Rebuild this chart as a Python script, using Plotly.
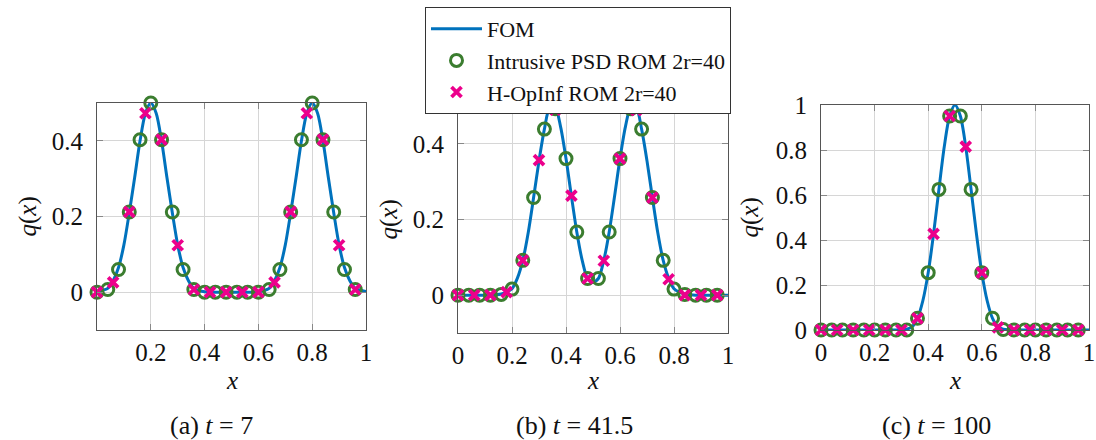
import plotly.graph_objects as go

# ---------------- data ----------------
x_fom = [0.00, 0.02, 0.04, 0.06, 0.08, 0.10, 0.12, 0.14, 0.16, 0.18,
         0.20, 0.22, 0.24, 0.26, 0.28, 0.30, 0.32, 0.34, 0.36, 0.38,
         0.40, 0.42, 0.44, 0.46, 0.48, 0.50, 0.52, 0.54, 0.56, 0.58,
         0.60, 0.62, 0.64, 0.66, 0.68, 0.70, 0.72, 0.74, 0.76, 0.78,
         0.80, 0.82, 0.84, 0.86, 0.88, 0.90, 0.92, 0.94, 0.96, 0.98, 1.00]

fom_a = [0.002, 0.005, 0.01, 0.03, 0.065, 0.125, 0.21, 0.303, 0.40, 0.473,
         0.50, 0.473, 0.40, 0.303, 0.21, 0.125, 0.065, 0.03, 0.01, 0.004,
         0.001, 0, 0, 0, 0, 0, 0, 0, 0, 0,
         0.001, 0.004, 0.01, 0.03, 0.065, 0.125, 0.21, 0.303, 0.40, 0.473,
         0.50, 0.473, 0.40, 0.303, 0.21, 0.125, 0.065, 0.03, 0.01, 0.005, 0.002]

fom_b = [0, 0, 0, 0, 0, 0, 0, 0.001, 0.003, 0.008,
         0.017, 0.045, 0.092, 0.165, 0.258, 0.355, 0.439, 0.496, 0.496, 0.445,
         0.361, 0.262, 0.167, 0.092, 0.044, 0.035, 0.044, 0.092, 0.167, 0.262,
         0.361, 0.445, 0.496, 0.496, 0.439, 0.355, 0.258, 0.165, 0.092, 0.045,
         0.017, 0.008, 0.003, 0.001, 0, 0, 0, 0, 0, 0, 0]

fom_c = [0, 0, 0, 0, 0, 0, 0, 0, 0, 0,
         0, 0, 0, 0, 0, 0.001, 0.004, 0.015, 0.052, 0.13,
         0.255, 0.427, 0.625, 0.815, 0.951, 1.0, 0.951, 0.815, 0.625, 0.427,
         0.255, 0.13, 0.052, 0.015, 0.004, 0.001, 0, 0, 0, 0,
         0, 0, 0, 0, 0, 0, 0, 0, 0, 0, 0]

x_psd = [0.00, 0.04, 0.08, 0.12, 0.16, 0.20, 0.24, 0.28, 0.32, 0.36,
         0.40, 0.44, 0.48, 0.52, 0.56, 0.60, 0.64, 0.68, 0.72, 0.76,
         0.80, 0.84, 0.88, 0.92, 0.96]

psd_a = [0, 0.007, 0.06, 0.212, 0.403, 0.5, 0.403, 0.212, 0.06, 0.007,
         0, 0, 0, 0, 0, 0, 0.007, 0.06, 0.212, 0.403,
         0.5, 0.403, 0.212, 0.06, 0.007]
psd_b = [0, 0, 0, 0, 0.002, 0.016, 0.092, 0.258, 0.439, 0.493,
         0.361, 0.167, 0.044, 0.044, 0.167, 0.361, 0.493, 0.439, 0.258, 0.092,
         0.016, 0.002, 0, 0, 0]
psd_c = [0, 0, 0, 0, 0, 0, 0, 0, 0, 0.052,
         0.255, 0.625, 0.951, 0.951, 0.625, 0.255, 0.052, 0.002, 0, 0,
         0, 0, 0, 0, 0]

x_opinf = [0.00, 0.06, 0.12, 0.18, 0.24, 0.30, 0.36, 0.42, 0.48,
           0.54, 0.60, 0.66, 0.72, 0.78, 0.84, 0.90, 0.96]

opinf_a = [0, 0.026, 0.212, 0.473, 0.403, 0.124, 0.007, 0, 0,
           0, 0, 0.026, 0.212, 0.473, 0.403, 0.124, 0.007]
opinf_b = [0, 0, 0, 0.008, 0.092, 0.357, 0.49, 0.263, 0.044,
           0.091, 0.361, 0.489, 0.258, 0.042, 0, 0, 0]
opinf_c = [0, 0, 0, 0, 0, 0, 0.052, 0.427, 0.951,
           0.815, 0.255, 0.012, 0, 0, 0, 0, 0]

captions = ["(a) <i>t</i> = 7", "(b) <i>t</i> = 41.5", "(c) <i>t</i> = 100"]
series_names = ["FOM", "Intrusive PSD ROM 2r=40", "H-OpInf ROM 2r=40"]

xtick_sets = [[0.2, 0.4, 0.6, 0.8, 1], [0, 0.2, 0.4, 0.6, 0.8, 1], [0, 0.2, 0.4, 0.6, 0.8, 1]]
ytick_sets = [[0, 0.2, 0.4], [0, 0.2, 0.4], [0, 0.2, 0.4, 0.6, 0.8, 1]]
yranges = [[-0.1, 0.5], [-0.1, 0.5], [0, 1]]

# ---------------- styling / layout ----------------
W, H = 1096, 440
FONT = "Liberation Serif"
BLUE = "#0072BD"
GREEN = "#3B7D2F"
MAGENTA = "#EC008C"

def fx(p):
    return p / W

def fy(p):
    return 1 - p / H

# pixel boxes of the three axes: (left, right, top, bottom)
boxes = [(97, 366, 103, 330), (458, 728, 106, 333), (821, 1089, 105, 330)]
ylabel_x = [27, 389, 749]
caption_x = [211, 574, 936]

def fmt(v):
    return "%g" % v

fig = go.Figure()
foms = [fom_a, fom_b, fom_c]
psds = [psd_a, psd_b, psd_c]
opinfs = [opinf_a, opinf_b, opinf_c]

for i in range(3):
    xa = "x" if i == 0 else f"x{i+1}"
    ya = "y" if i == 0 else f"y{i+1}"
    show = (i == 0)
    fig.add_trace(go.Scatter(x=x_fom, y=foms[i], mode="lines", name=series_names[0],
                             line=dict(color=BLUE, width=3, shape="spline", smoothing=0.8),
                             xaxis=xa, yaxis=ya, showlegend=show, legendrank=1))
    fig.add_trace(go.Scatter(x=x_psd, y=psds[i], mode="markers", name=series_names[1],
                             marker=dict(symbol="circle-open", size=12, color=GREEN,
                                         line=dict(width=3, color=GREEN)),
                             cliponaxis=False,
                             xaxis=xa, yaxis=ya, showlegend=show, legendrank=2))
    fig.add_trace(go.Scatter(x=x_opinf, y=opinfs[i], mode="markers", name=series_names[2],
                             marker=dict(symbol="x-thin", size=10, color=MAGENTA,
                                         line=dict(width=3.8, color=MAGENTA)),
                             cliponaxis=False,
                             xaxis=xa, yaxis=ya, showlegend=show, legendrank=3))

layout = dict(
    width=W, height=H,
    margin=dict(l=0, r=0, t=0, b=0, autoexpand=False),
    paper_bgcolor="white", plot_bgcolor="white",
    font=dict(family=FONT, size=24, color="#111"),
    showlegend=True,
    legend=dict(x=fx(425), y=fy(7), xanchor="left", yanchor="top",
                bgcolor="white", bordercolor="#333", borderwidth=1,
                font=dict(family=FONT, size=22, color="#111"),
                itemwidth=51, tracegroupgap=0),
)

axis_common = dict(showline=True, linecolor="#555", linewidth=1, mirror="ticks",
                   ticks="inside", ticklen=6, tickcolor="#888", tickwidth=1,
                   showgrid=True, gridcolor="#d6d6d6", gridwidth=1, automargin=False,
                   zeroline=False, ticklabeloverflow="allow",
                   tickfont=dict(family=FONT, size=25, color="#111"))

annotations = []
for i, (l, r, t, b) in enumerate(boxes):
    xk = "xaxis" if i == 0 else f"xaxis{i+1}"
    yk = "yaxis" if i == 0 else f"yaxis{i+1}"
    ya = "y" if i == 0 else f"y{i+1}"
    xa = "x" if i == 0 else f"x{i+1}"
    layout[xk] = dict(axis_common, domain=[fx(l), fx(r)], range=[0, 1], anchor=ya,
                      tickvals=xtick_sets[i], ticktext=[fmt(v) for v in xtick_sets[i]],
                      ticklabelstandoff=0)
    layout[yk] = dict(axis_common, domain=[fy(b), fy(t)], range=yranges[i], anchor=xa,
                      tickvals=ytick_sets[i], ticktext=[fmt(v) for v in ytick_sets[i]],
                      ticklabelstandoff=8)
    annotations.append(dict(text="<i>q</i>(<i>x</i>)", textangle=-90, xref="paper", yref="paper",
                            x=fx(ylabel_x[i]), y=fy((t + b) / 2), showarrow=False,
                            xanchor="center", yanchor="middle",
                            font=dict(family=FONT, size=25, color="#111")))
    annotations.append(dict(text="<i>x</i>", xref="paper", yref="paper",
                            x=fx((l + r) / 2), y=fy(380), showarrow=False,
                            xanchor="center", yanchor="middle",
                            font=dict(family=FONT, size=25, color="#111")))
    annotations.append(dict(text=captions[i], xref="paper", yref="paper",
                            x=fx(caption_x[i]), y=fy(425), showarrow=False,
                            xanchor="center", yanchor="middle",
                            font=dict(family=FONT, size=26, color="#111")))

layout["annotations"] = annotations
fig.update_layout(**layout)

fig.write_html("out.html", config={"displayModeBar": False},
               post_script="document.body.style.margin='0';document.body.style.overflow='hidden';")
